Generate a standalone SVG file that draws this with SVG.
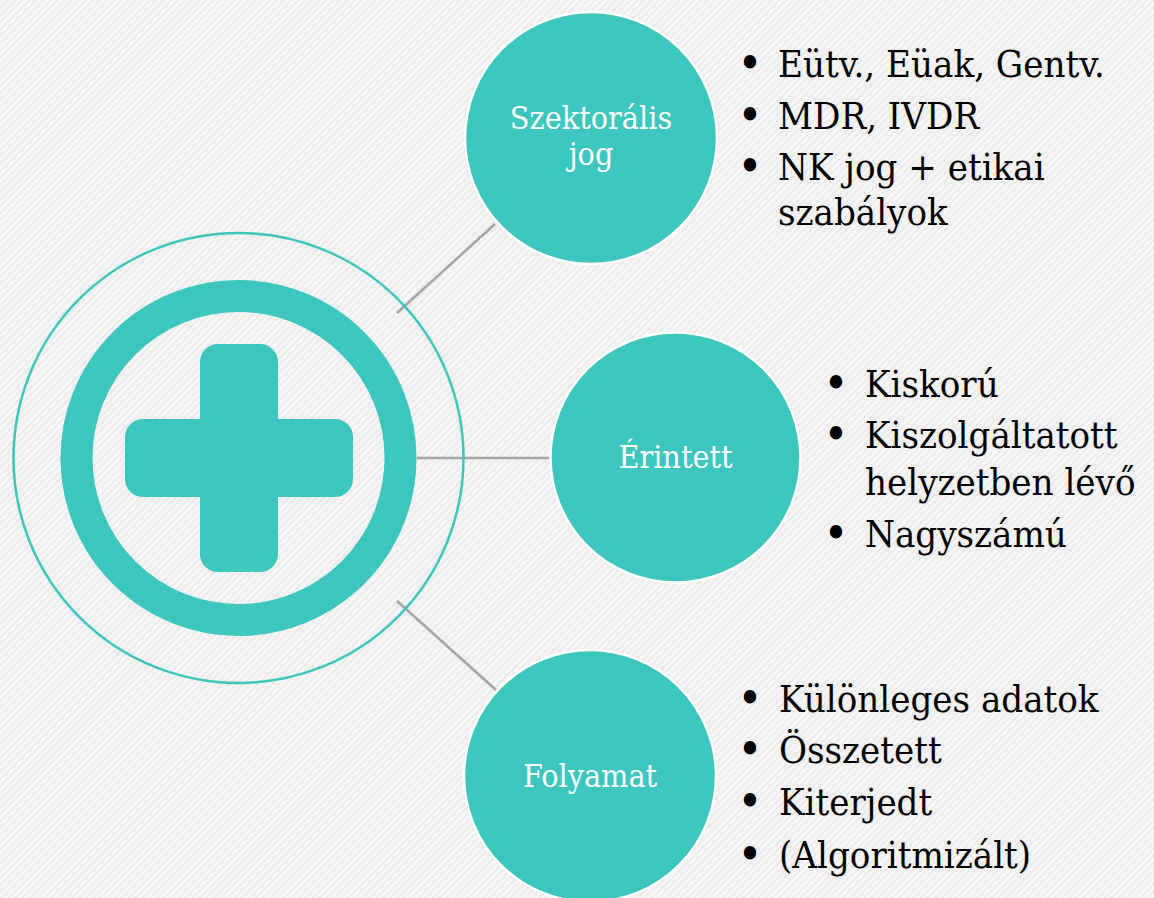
<svg xmlns="http://www.w3.org/2000/svg" width="1154" height="898" viewBox="0 0 1154 898">
<defs>
<pattern id="bg" width="5" height="5" patternUnits="userSpaceOnUse" patternTransform="rotate(45)">
<rect width="5" height="5" fill="#f5f5f5"/>
<rect width="2" height="5" fill="#ebebeb"/>
</pattern>
<style>
.node{fill:#3cc6bd;stroke:#ffffff;stroke-width:2.5}
.lbl{font-family:"DejaVu Serif Condensed","DejaVu Serif",serif;font-stretch:condensed;font-size:32px;fill:#ffffff;text-anchor:middle}
.txt{font-family:"DejaVu Serif Condensed","DejaVu Serif",serif;font-stretch:condensed;font-size:38px;fill:#000000}
.bul{text-anchor:middle;font-size:47px}
.conn{stroke:#a6a6a6;stroke-width:2.5;fill:none}
.teal{fill:#3cc6bd}
</style>
</defs>
<rect width="1154" height="898" fill="url(#bg)"/>

<g id="connectors">
<line class="conn" x1="397" y1="313" x2="495" y2="224"/>
<line class="conn" x1="417" y1="458" x2="550" y2="458"/>
<line class="conn" x1="397" y1="601" x2="496" y2="690"/>
</g>

<g id="center">
<circle cx="238.5" cy="458" r="225" fill="none" stroke="#3cc6bd" stroke-width="2.5"/>
<circle cx="238.5" cy="458" r="162" fill="none" stroke="#3cc6bd" stroke-width="32"/>
<rect class="teal" x="200" y="344" width="78" height="228" rx="18" ry="18"/>
<rect class="teal" x="125" y="419" width="228" height="78" rx="18" ry="18"/>
</g>

<g id="node-szektoralis">
<circle class="node" cx="591" cy="138" r="126"/>
<text class="lbl" x="591" y="129">Szektorális</text>
<text class="lbl" x="591" y="165">jog</text>
<text class="txt bul" x="750" y="79">•</text>
<text class="txt" x="778" y="77">Eütv., Eüak, Gentv.</text>
<text class="txt bul" x="750" y="131">•</text>
<text class="txt" x="778" y="129">MDR, IVDR</text>
<text class="txt bul" x="750" y="182">•</text>
<text class="txt" x="778" y="180">NK jog + etikai</text>
<text class="txt" x="778" y="225">szabályok</text>
</g>

<g id="node-erintett">
<circle class="node" cx="675.5" cy="457.5" r="125"/>
<text class="lbl" x="675.5" y="468">Érintett</text>
<text class="txt bul" x="836" y="399">•</text>
<text class="txt" x="865" y="397">Kiskorú</text>
<text class="txt bul" x="836" y="450">•</text>
<text class="txt" x="865" y="448">Kiszolgáltatott</text>
<text class="txt" x="865" y="495">helyzetben lévő</text>
<text class="txt bul" x="836" y="549">•</text>
<text class="txt" x="865" y="547">Nagyszámú</text>
</g>

<g id="node-folyamat">
<circle class="node" cx="590" cy="776" r="126"/>
<text class="lbl" x="590" y="787">Folyamat</text>
<text class="txt bul" x="750" y="714">•</text>
<text class="txt" x="779" y="712">Különleges adatok</text>
<text class="txt bul" x="750" y="765">•</text>
<text class="txt" x="779" y="763">Összetett</text>
<text class="txt bul" x="750" y="817">•</text>
<text class="txt" x="779" y="815">Kiterjedt</text>
<text class="txt bul" x="750" y="870">•</text>
<text class="txt" x="779" y="868">(Algoritmizált)</text>
</g>
</svg>
